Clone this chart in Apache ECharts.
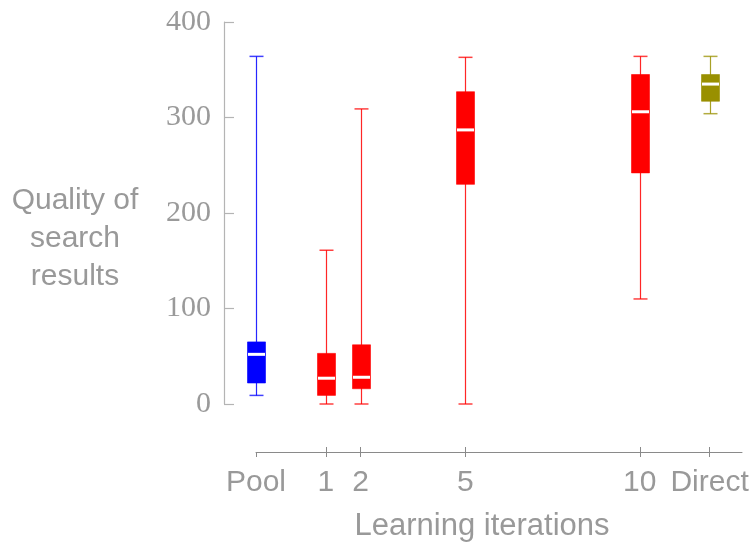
<!DOCTYPE html>
<html>
<head>
<meta charset="utf-8">
<script src="https://cdn.jsdelivr.net/npm/echarts@6/dist/echarts.min.js"></script>
<style>html,body{margin:0;padding:0;background:#fff}#c{width:755px;height:543px}</style>
</head>
<body>
<div id="c"></div>
<script>
var categories = ['Pool', '1', '2', '5', '10', 'Direct'];
var positions = [-1, 1, 2, 5, 10, 12];
var mins    = [9,   0,  0,   0,   110, 304];
var q1s     = [22,  9,  16,  230, 242, 317];
var medians = [52,  27, 28,  287, 306, 335];
var q3s     = [65,  53, 62,  327, 345, 345];
var maxs    = [364, 161, 309, 363, 364, 364];
var colors  = ['#0000ff', '#ff0000', '#ff0000', '#ff0000', '#ff0000', '#999000'];
var yTicks  = [0, 100, 200, 300, 400];

var data = positions.map(function (p, i) {
  return [p, mins[i], q1s[i], medians[i], q3s[i], maxs[i], i];
});

var chart = echarts.init(document.getElementById('c'));
var labelMap = {};
positions.forEach(function (p, i) { labelMap[p] = categories[i]; });

function renderItem(params, api) {
  var x = api.value(0);
  var idx = api.value(6);
  var col = colors[idx];
  var pMin = api.coord([x, api.value(1)]);
  var pQ1 = api.coord([x, api.value(2)]);
  var pMed = api.coord([x, api.value(3)]);
  var pQ3 = api.coord([x, api.value(4)]);
  var pMax = api.coord([x, api.value(5)]);
  var cx = Math.round(pMin[0]) + 0.5;
  var bw = 18, cw = 14;
  return {
    type: 'group',
    children: [
      { type: 'line', shape: { x1: cx, y1: pMin[1], x2: cx, y2: pMax[1] },
        style: { stroke: col, lineWidth: 1.2, opacity: 0.85 } },
      { type: 'line', shape: { x1: cx - cw / 2, y1: pMin[1], x2: cx + cw / 2, y2: pMin[1] },
        style: { stroke: col, lineWidth: 1.5, opacity: 0.75 } },
      { type: 'line', shape: { x1: cx - cw / 2, y1: pMax[1], x2: cx + cw / 2, y2: pMax[1] },
        style: { stroke: col, lineWidth: 1.5, opacity: 0.75 } },
      { type: 'rect', shape: { x: cx - bw / 2, y: pQ3[1], width: bw, height: pQ1[1] - pQ3[1] },
        style: { fill: col, stroke: col, lineWidth: 1, strokeOpacity: 0.6 } },
      { type: 'line', shape: { x1: cx - bw / 2 + 0.5, y1: pMed[1], x2: cx + bw / 2 - 0.5, y2: pMed[1] },
        style: { stroke: '#ffffff', lineWidth: 3 } }
    ]
  };
}

chart.setOption({
  animation: false,
  grid: { left: 256, right: 13, top: 22, bottom: 139 },
  xAxis: [{
    type: 'value', min: -1, max: 12.93, offset: 48, position: 'bottom',
    splitLine: { show: false },
    axisLine: { show: true, onZero: false, lineStyle: { color: '#8a8a8a', width: 1 } },
    axisTick: { show: true, length: 5, customValues: positions, lineStyle: { color: '#8a8a8a' } },
    axisLabel: {
      customValues: positions, margin: 16,
      formatter: function (v) { return labelMap[v] !== undefined ? labelMap[v] : ''; },
      fontFamily: 'Liberation Sans', fontSize: 30, color: '#999999'
    }
  }, {
    type: 'value', min: -1, max: 12.93, offset: 48, position: 'bottom',
    splitLine: { show: false },
    axisLine: { show: false, onZero: false },
    axisTick: { show: true, inside: true, length: 5, customValues: positions.slice(1), lineStyle: { color: '#8a8a8a' } },
    axisLabel: { show: false }
  }],
  yAxis: {
    type: 'value', min: 0, max: 400, interval: 100, offset: 32, position: 'left',
    splitLine: { show: false },
    axisLine: { show: true, onZero: false, lineStyle: { color: '#b4b4b4', width: 1.2 } },
    axisTick: { show: true, inside: true, length: 10, lineStyle: { color: '#b4b4b4', width: 1.2 } },
    axisLabel: {
      margin: 13, fontFamily: 'Liberation Serif', fontSize: 30, color: '#9a9a9a',
      formatter: function (v) { return yTicks.indexOf(v) >= 0 ? String(v) : ''; }
    }
  },
  graphic: [
    { type: 'text', x: 75, y: 239,
      style: { text: 'Quality of\nsearch\nresults', textAlign: 'center', textVerticalAlign: 'middle',
        font: '30px "Liberation Sans"', lineHeight: 38, fill: '#999999' } },
    { type: 'text', x: 482, y: 526,
      style: { text: 'Learning iterations', textAlign: 'center', textVerticalAlign: 'middle',
        font: '31px "Liberation Sans"', fill: '#999999' } }
  ],
  series: [{
    type: 'custom',
    renderItem: renderItem,
    xAxisIndex: 0,
    clip: false,
    encode: { x: 0, y: [1, 2, 3, 4, 5] },
    data: data
  }]
});
</script>
</body>
</html>
